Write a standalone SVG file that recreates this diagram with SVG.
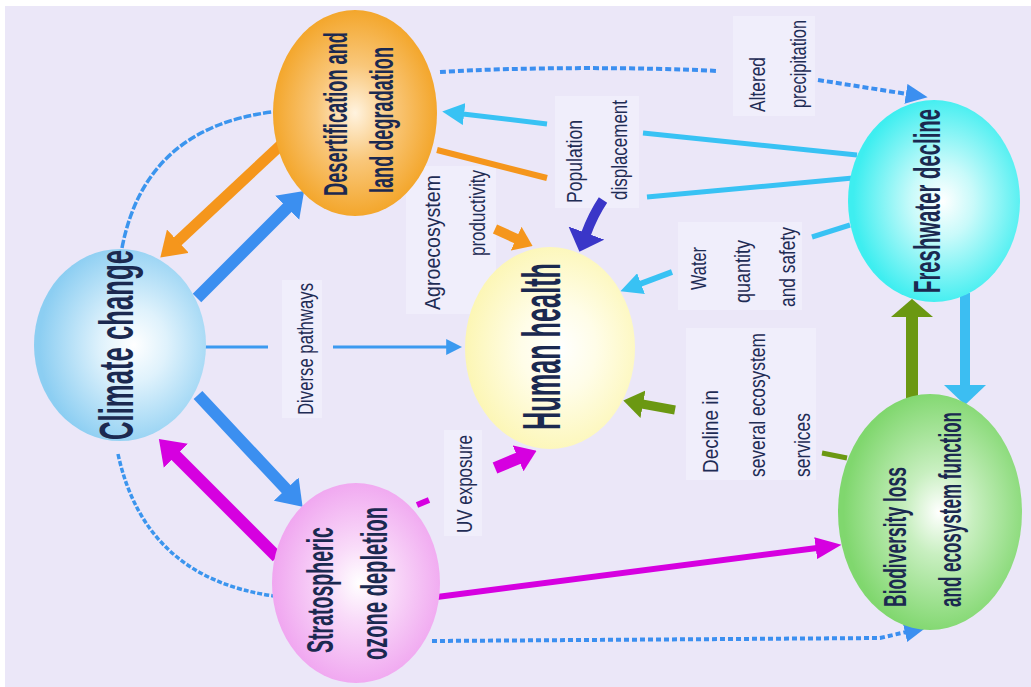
<svg xmlns="http://www.w3.org/2000/svg" width="1031" height="687" viewBox="0 0 1031 687">
<style>
.node-t{font-family:"Liberation Sans Narrow","Liberation Sans",Arial,sans-serif;font-weight:bold;fill:#1b2950}
.lbl{font-family:"Liberation Sans Narrow","Liberation Sans",Arial,sans-serif;fill:#1f2c55;font-size:22px}
.lblbg{fill:#f0eefb}
.c{fill:none;stroke-linecap:butt}
</style>
<defs>
<radialGradient id="gClimate" cx="58%" cy="50%" r="55%"><stop offset="0" stop-color="#ffffff"/><stop offset="0.35" stop-color="#dff2fc"/><stop offset="1" stop-color="#8ccef2"/></radialGradient>
<radialGradient id="gDesert" cx="50%" cy="50%" r="52%"><stop offset="0" stop-color="#fff3df"/><stop offset="0.45" stop-color="#f9c77a"/><stop offset="1" stop-color="#f3a426"/></radialGradient>
<radialGradient id="gHuman" cx="55%" cy="50%" r="55%"><stop offset="0" stop-color="#ffffff"/><stop offset="0.4" stop-color="#fffde8"/><stop offset="1" stop-color="#fcf6b4"/></radialGradient>
<radialGradient id="gFresh" cx="55%" cy="50%" r="52%"><stop offset="0" stop-color="#ffffff"/><stop offset="0.35" stop-color="#c8fafa"/><stop offset="1" stop-color="#3eeef0"/></radialGradient>
<radialGradient id="gBio" cx="55%" cy="50%" r="52%"><stop offset="0" stop-color="#ffffff"/><stop offset="0.35" stop-color="#c8efc0"/><stop offset="1" stop-color="#80d76e"/></radialGradient>
<radialGradient id="gStrat" cx="52%" cy="50%" r="52%"><stop offset="0" stop-color="#ffffff"/><stop offset="0.35" stop-color="#f9dcf9"/><stop offset="1" stop-color="#f0a6f0"/></radialGradient>
<marker id="mBlueL" viewBox="0 0 10 10" refX="0.5" refY="5" markerWidth="24" markerHeight="34" markerUnits="userSpaceOnUse" orient="auto" preserveAspectRatio="none"><path d="M0,0 L10,5 L0,10 z" fill="#3b8ff0"/></marker>
<marker id="mOrangeL" viewBox="0 0 10 10" refX="0.5" refY="5" markerWidth="24" markerHeight="32" markerUnits="userSpaceOnUse" orient="auto" preserveAspectRatio="none"><path d="M0,0 L10,5 L0,10 z" fill="#f5961c"/></marker>
<marker id="mMagL" viewBox="0 0 10 10" refX="0.5" refY="5" markerWidth="24" markerHeight="34" markerUnits="userSpaceOnUse" orient="auto" preserveAspectRatio="none"><path d="M0,0 L10,5 L0,10 z" fill="#d600e0"/></marker>
<marker id="mBlueS" viewBox="0 0 10 10" refX="0.5" refY="5" markerWidth="16" markerHeight="16" markerUnits="userSpaceOnUse" orient="auto" preserveAspectRatio="none"><path d="M0,0 L10,5 L0,10 z" fill="#3b9af0"/></marker>
<marker id="mBlueD" viewBox="0 0 10 10" refX="0.5" refY="5" markerWidth="22" markerHeight="20" markerUnits="userSpaceOnUse" orient="auto" preserveAspectRatio="none"><path d="M0,0 L10,5 L0,10 z" fill="#3b8ff0"/></marker>
<marker id="mCyanM" viewBox="0 0 10 10" refX="0.5" refY="5" markerWidth="22" markerHeight="22" markerUnits="userSpaceOnUse" orient="auto" preserveAspectRatio="none"><path d="M0,0 L10,5 L0,10 z" fill="#38c2f4"/></marker>
<marker id="mNavy" viewBox="0 0 10 10" refX="0.5" refY="5" markerWidth="20" markerHeight="38" markerUnits="userSpaceOnUse" orient="auto" preserveAspectRatio="none"><path d="M0,0 L10,5 L0,10 z" fill="#3a36c8"/></marker>
<marker id="mOrangeS" viewBox="0 0 10 10" refX="0.5" refY="5" markerWidth="18" markerHeight="26" markerUnits="userSpaceOnUse" orient="auto" preserveAspectRatio="none"><path d="M0,0 L10,5 L0,10 z" fill="#f5961c"/></marker>
<marker id="mCyanV" viewBox="0 0 10 10" refX="0.5" refY="5" markerWidth="20" markerHeight="42" markerUnits="userSpaceOnUse" orient="auto" preserveAspectRatio="none"><path d="M0,0 L10,5 L0,10 z" fill="#3cbef2"/></marker>
<marker id="mOliveV" viewBox="0 0 10 10" refX="0.5" refY="5" markerWidth="18" markerHeight="42" markerUnits="userSpaceOnUse" orient="auto" preserveAspectRatio="none"><path d="M0,0 L10,5 L0,10 z" fill="#6b9812"/></marker>
<marker id="mOliveM" viewBox="0 0 10 10" refX="0.5" refY="5" markerWidth="20" markerHeight="28" markerUnits="userSpaceOnUse" orient="auto" preserveAspectRatio="none"><path d="M0,0 L10,5 L0,10 z" fill="#6b9812"/></marker>
<marker id="mMagM" viewBox="0 0 10 10" refX="0.5" refY="5" markerWidth="26" markerHeight="22" markerUnits="userSpaceOnUse" orient="auto" preserveAspectRatio="none"><path d="M0,0 L10,5 L0,10 z" fill="#d600e0"/></marker>
<marker id="mMagS" viewBox="0 0 10 10" refX="0.5" refY="5" markerWidth="20" markerHeight="28" markerUnits="userSpaceOnUse" orient="auto" preserveAspectRatio="none"><path d="M0,0 L10,5 L0,10 z" fill="#d600e0"/></marker>
</defs>
<rect x="0" y="0" width="1031" height="687" fill="#ffffff"/>
<rect x="5" y="6" width="1026" height="681" fill="#ebe7f8"/>

<g id="label-boxes">
<rect class="lblbg" x="282" y="280" width="40" height="138"/>
<rect class="lblbg" x="406" y="166" width="90" height="148"/>
<rect class="lblbg" x="555" y="96" width="84" height="112"/>
<rect class="lblbg" x="733" y="16" width="82" height="100"/>
<rect class="lblbg" x="678" y="222" width="124" height="88"/>
<rect class="lblbg" x="686" y="328" width="130" height="152"/>
<rect class="lblbg" x="444" y="430" width="38" height="106"/>
</g>

<g id="connectors">
<path class="c" d="M197,298 L288,207" stroke="#3b8ff0" stroke-width="12" marker-end="url(#mBlueL)"/>
<path class="c" d="M283,143 L177,242" stroke="#f5961c" stroke-width="11" marker-end="url(#mOrangeL)"/>
<path class="c" d="M198,395 L287,490" stroke="#3b8ff0" stroke-width="12" marker-end="url(#mBlueL)"/>
<path class="c" d="M277,557 L175,455" stroke="#d600e0" stroke-width="12" marker-end="url(#mMagL)"/>
<path class="c" d="M205,347 L268,347" stroke="#3b9af0" stroke-width="3"/>
<path class="c" d="M333,347 L447,347" stroke="#3b9af0" stroke-width="3" marker-end="url(#mBlueS)"/>
<path class="c" d="M122,248 Q145,128 272,112" stroke="#3b95ee" stroke-width="3.5" stroke-dasharray="8 2"/>
<path class="c" d="M118,454 Q145,578 274,596" stroke="#3b95ee" stroke-width="3.5" stroke-dasharray="5 2"/>
<path class="c" d="M440,72 C520,67 640,67 718,71" stroke="#3b8ff0" stroke-width="4" stroke-dasharray="6 3"/>
<path class="c" d="M818,80 L907,94" stroke="#3b8ff0" stroke-width="4" stroke-dasharray="6 3" marker-end="url(#mBlueD)"/>
<path class="c" d="M857,155 L643,133" stroke="#38c2f4" stroke-width="5"/>
<path class="c" d="M547,124 L463,114" stroke="#38c2f4" stroke-width="5" marker-end="url(#mCyanM)"/>
<path class="c" d="M853,178 L647,197" stroke="#38c2f4" stroke-width="5"/>
<path class="c" d="M437,150 L547,178" stroke="#f5961c" stroke-width="6"/>
<path class="c" d="M603,200 Q593,215 586,234" stroke="#3a36c8" stroke-width="10" marker-end="url(#mNavy)"/>
<path class="c" d="M495,229 L517,239" stroke="#f5961c" stroke-width="10" marker-end="url(#mOrangeS)"/>
<path class="c" d="M850,225 L812,237" stroke="#38c2f4" stroke-width="5"/>
<path class="c" d="M672,272 L640,284" stroke="#38c2f4" stroke-width="6" marker-end="url(#mCyanM)"/>
<path class="c" d="M965,293 L965,386" stroke="#3cbef2" stroke-width="10" marker-end="url(#mCyanV)"/>
<path class="c" d="M912,404 L912,316" stroke="#6b9812" stroke-width="12" marker-end="url(#mOliveV)"/>
<path class="c" d="M847,458 L822,453" stroke="#6b9812" stroke-width="5"/>
<path class="c" d="M675,410 L642,404" stroke="#6b9812" stroke-width="9" marker-end="url(#mOliveM)"/>
<path class="c" d="M437,597 L817,548" stroke="#d600e0" stroke-width="6" marker-end="url(#mMagM)"/>
<path class="c" d="M417,505 L429,500" stroke="#d600e0" stroke-width="6"/>
<path class="c" d="M495,468 L519,458" stroke="#d600e0" stroke-width="12" marker-end="url(#mMagS)"/>
<path class="c" d="M432,641 L880,638 L906,632" stroke="#3b8ff0" stroke-width="4" stroke-dasharray="5 3" marker-end="url(#mBlueD)"/>
</g>

<g id="node-climate">
<ellipse cx="120" cy="345" rx="86" ry="96" fill="url(#gClimate)"/>
<text class="node-t" font-size="48" transform="translate(133,440) rotate(-90)" textLength="190" lengthAdjust="spacingAndGlyphs">Climate change</text>
</g>
<g id="node-desertification">
<ellipse cx="355" cy="113" rx="82" ry="103" fill="url(#gDesert)"/>
<text class="node-t" font-size="34" transform="translate(347,196) rotate(-90)" textLength="164" lengthAdjust="spacingAndGlyphs">Desertification and</text>
<text class="node-t" font-size="34" transform="translate(393,193) rotate(-90)" textLength="146" lengthAdjust="spacingAndGlyphs">land degradation</text>
</g>
<g id="node-human">
<ellipse cx="550" cy="348" rx="85" ry="101" fill="url(#gHuman)"/>
<text class="node-t" font-size="54" transform="translate(560,430) rotate(-90)" textLength="167" lengthAdjust="spacingAndGlyphs">Human health</text>
</g>
<g id="node-freshwater">
<ellipse cx="934" cy="201" rx="86" ry="101" fill="url(#gFresh)"/>
<text class="node-t" font-size="37" transform="translate(940,293) rotate(-90)" textLength="184" lengthAdjust="spacingAndGlyphs">Freshwater decline</text>
</g>
<g id="node-biodiversity">
<ellipse cx="930" cy="512" rx="92" ry="118" fill="url(#gBio)"/>
<text class="node-t" font-size="32" transform="translate(906,607) rotate(-90)" textLength="140" lengthAdjust="spacingAndGlyphs">Biodiversity loss</text>
<text class="node-t" font-size="32" transform="translate(961,607) rotate(-90)" textLength="195" lengthAdjust="spacingAndGlyphs">and ecosystem function</text>
</g>
<g id="node-stratospheric">
<ellipse cx="356" cy="583" rx="84" ry="100" fill="url(#gStrat)"/>
<text class="node-t" font-size="36" transform="translate(333,653) rotate(-90)" textLength="126" lengthAdjust="spacingAndGlyphs">Stratospheric</text>
<text class="node-t" font-size="36" transform="translate(387,660) rotate(-90)" textLength="153" lengthAdjust="spacingAndGlyphs">ozone depletion</text>
</g>

<g id="labels">
<text class="lbl" transform="translate(313,415) rotate(-90)" textLength="132" lengthAdjust="spacingAndGlyphs">Diverse pathways</text>
<text class="lbl" transform="translate(440,310) rotate(-90)" textLength="135" lengthAdjust="spacingAndGlyphs">Agroecosystem</text>
<text class="lbl" transform="translate(485,256) rotate(-90)" textLength="86" lengthAdjust="spacingAndGlyphs">productivity</text>
<text class="lbl" transform="translate(582,203) rotate(-90)" textLength="83" lengthAdjust="spacingAndGlyphs">Population</text>
<text class="lbl" transform="translate(627,200) rotate(-90)" textLength="100" lengthAdjust="spacingAndGlyphs">displacement</text>
<text class="lbl" transform="translate(765,112) rotate(-90)" textLength="55" lengthAdjust="spacingAndGlyphs">Altered</text>
<text class="lbl" transform="translate(806,108) rotate(-90)" textLength="88" lengthAdjust="spacingAndGlyphs">precipitation</text>
<text class="lbl" transform="translate(706,290) rotate(-90)" textLength="43" lengthAdjust="spacingAndGlyphs">Water</text>
<text class="lbl" transform="translate(750,303) rotate(-90)" textLength="63" lengthAdjust="spacingAndGlyphs">quantity</text>
<text class="lbl" transform="translate(795,307) rotate(-90)" textLength="80" lengthAdjust="spacingAndGlyphs">and safety</text>
<text class="lbl" transform="translate(718,473) rotate(-90)" textLength="83" lengthAdjust="spacingAndGlyphs">Decline in</text>
<text class="lbl" transform="translate(765,477) rotate(-90)" textLength="144" lengthAdjust="spacingAndGlyphs">several ecosystem</text>
<text class="lbl" transform="translate(810,477) rotate(-90)" textLength="64" lengthAdjust="spacingAndGlyphs">services</text>
<text class="lbl" transform="translate(472,533) rotate(-90)" textLength="98" lengthAdjust="spacingAndGlyphs">UV exposure</text>
</g>
</svg>
